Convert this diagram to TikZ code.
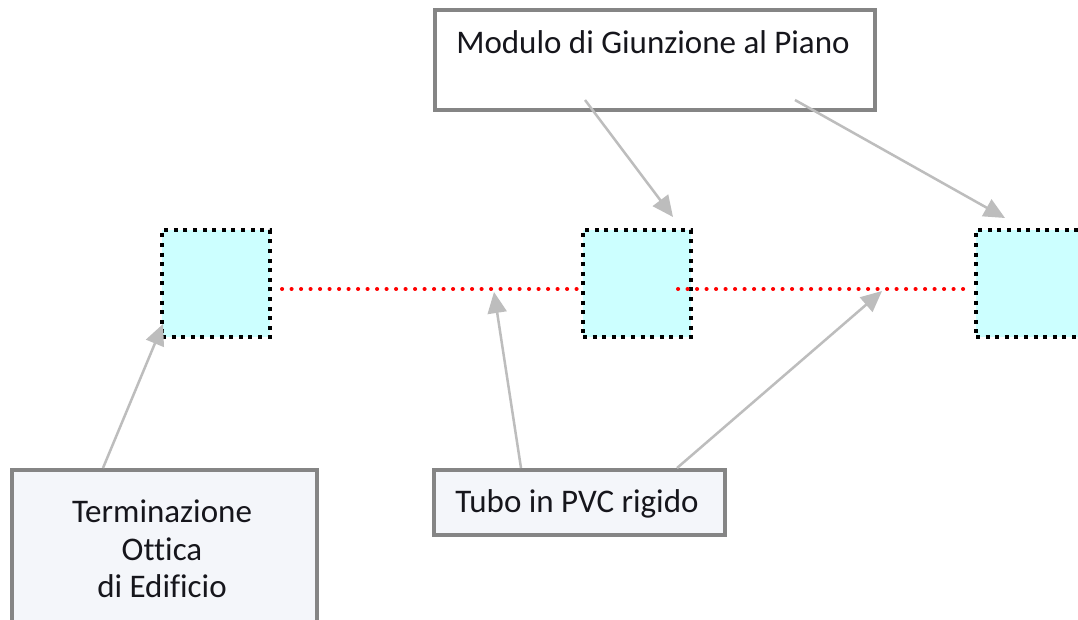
\documentclass[tikz,border=0pt]{standalone}
\usepackage{fontspec}
\setmainfont[Ligatures=NoCommon]{Carlito}
\usetikzlibrary{arrows.meta}
\definecolor{boxgray}{HTML}{858585}
\definecolor{boxfill}{HTML}{F4F6FA}
\definecolor{sqfill}{HTML}{CCFFFF}
\definecolor{arrgray}{HTML}{BDBDBD}
\definecolor{txtcol}{HTML}{16161C}
\tikzset{
  labelbox/.style={draw=boxgray, line width=3.5pt, fill=boxfill, inner sep=0pt},
  txt/.style={text=txtcol, font=\fontsize{33}{37.5}\selectfont, inner sep=0pt, align=center},
  sqnode/.style={draw=black, fill=sqfill, line width=4pt, dash pattern=on 4pt off 5.6pt, minimum width=108pt, minimum height=107pt, inner sep=0pt, anchor=north west},
  redline/.style={draw=red, line width=4pt, dash pattern=on 0.1pt off 9.4pt, line cap=round},
  callout/.style={draw=arrgray, line width=2.5pt, -{Triangle[length=21pt,width=19pt]}}
}
\begin{document}
\begin{tikzpicture}[x=1pt,y=-1pt]
\useasboundingbox (0,0) rectangle (1078,619);
\clip (0,0) rectangle (1078,619);
\fill[white] (0,0) rectangle (1078,619);
% squares
\node[sqnode] (s1) at (160,228) {};
\node[sqnode] (s2) at (581,228) {};
\node[sqnode] (s3) at (974,228) {};
% red dotted tubes
\coordinate (r1a) at (282,289);
\coordinate (r1b) at (578,289);
\coordinate (r2a) at (678,289);
\coordinate (r2b) at (972,289);
\draw[redline] (r1a) -- (r1b);
\draw[redline] (r2a) -- (r2b);
% label boxes
\node[labelbox, fill=white, anchor=north west, minimum width=440pt, minimum height=100pt] (modulo) at (433,8) {};
\node[txt, anchor=base] (modulotxt) at (653,53) {Modulo di Giunzione al Piano};
\node[labelbox, anchor=north west, minimum width=305pt, minimum height=200pt] (term) at (10,468) {};
\node[txt, anchor=center] (termtxt) at (162,549) {Terminazione\\Ottica\\di Edificio};
\node[labelbox, anchor=north west, minimum width=291pt, minimum height=65pt] (tubo) at (432,468) {};
\node[txt, anchor=base] (tubotxt) at (577,512) {Tubo in PVC rigido};
% arrow ends
\coordinate (m1) at (585,100);
\coordinate (m2) at (795,100);
\coordinate (t1) at (673,217);
\coordinate (t2) at (1005,218);
\coordinate (e1) at (103,468);
\coordinate (e2) at (163,324);
\coordinate (p1) at (521,468);
\coordinate (p2) at (494,292);
\coordinate (q1) at (677,468);
\coordinate (q2) at (882,291);
\draw[callout] (m1) -- (t1);
\draw[callout] (m2) -- (t2);
\draw[callout] (e1) -- (e2);
\draw[callout] (p1) -- (p2);
\draw[callout] (q1) -- (q2);
\end{tikzpicture}
\end{document}
